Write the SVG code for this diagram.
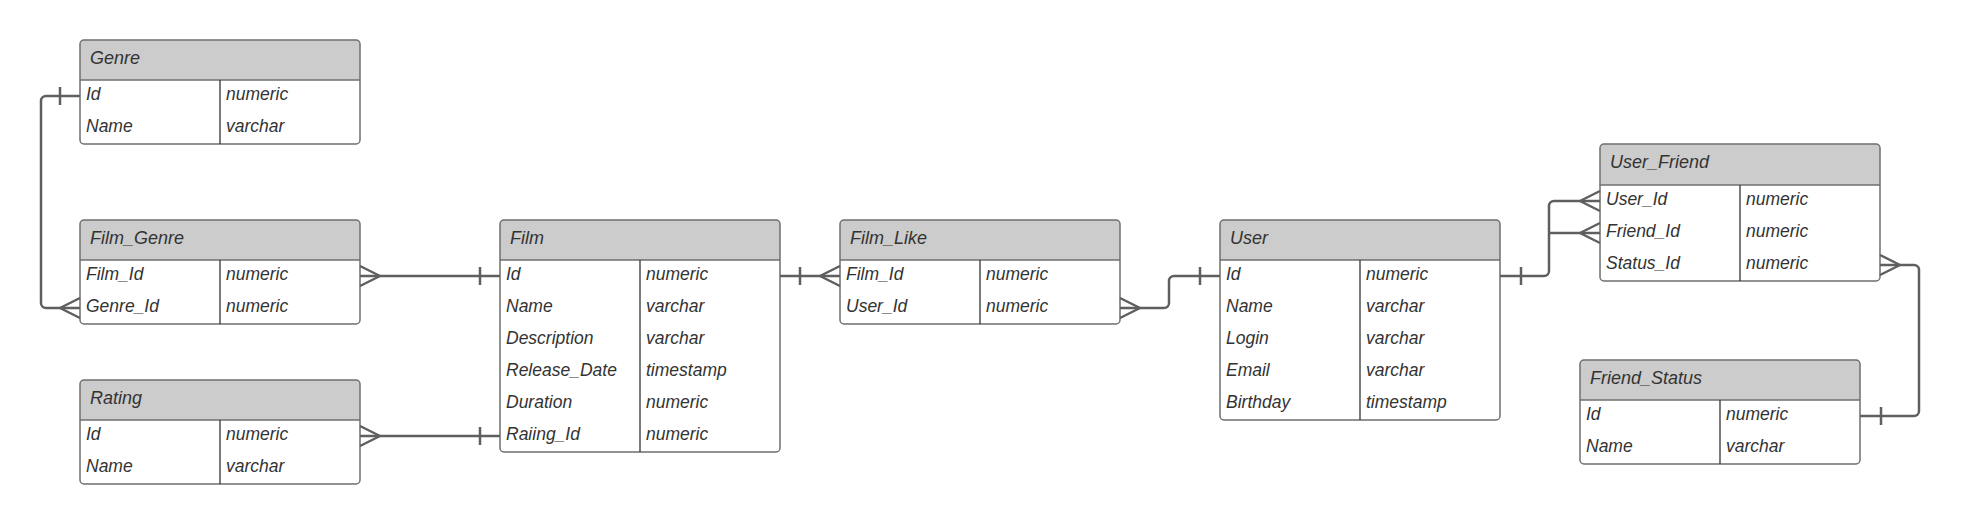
<svg xmlns="http://www.w3.org/2000/svg" width="1961" height="524" viewBox="0 0 1961 524">
<style>
.box{fill:#ffffff;stroke:#6f6f6f;stroke-width:1.5}
.hdr{fill:#cccccc}
.sep{stroke:#6f6f6f;stroke-width:1.5}
.div{stroke:#333333;stroke-width:1.3}
text{font-family:"Liberation Sans",Arial,sans-serif;font-style:italic;fill:#333333}
.t{font-size:18px}
.f{font-size:17.5px}
.c{fill:none;stroke:#5f5f5f;stroke-width:2.5;stroke-linejoin:round}
</style>
<rect width="1961" height="524" fill="#ffffff"/>

<g id="Genre">
<path class="hdr" d="M80,80 V44 a4,4 0 0 1 4,-4 H356 a4,4 0 0 1 4,4 V80 Z"/>
<rect class="box" x="80" y="40" width="280" height="104" rx="4" fill="none" style="fill:none"/>
<line class="sep" x1="80" y1="80" x2="360" y2="80"/>
<line class="div" x1="220" y1="80" x2="220" y2="144"/>
<text class="t" x="90" y="64">Genre</text>
<text class="f" x="86" y="100">Id</text><text class="f" x="226" y="100">numeric</text>
<text class="f" x="86" y="132">Name</text><text class="f" x="226" y="132">varchar</text>
</g>

<g id="Film_Genre">
<path class="hdr" d="M80,260 V224 a4,4 0 0 1 4,-4 H356 a4,4 0 0 1 4,4 V260 Z"/>
<rect class="box" x="80" y="220" width="280" height="104" rx="4" style="fill:none"/>
<line class="sep" x1="80" y1="260" x2="360" y2="260"/>
<line class="div" x1="220" y1="260" x2="220" y2="324"/>
<text class="t" x="90" y="244">Film_Genre</text>
<text class="f" x="86" y="280">Film_Id</text><text class="f" x="226" y="280">numeric</text>
<text class="f" x="86" y="312">Genre_Id</text><text class="f" x="226" y="312">numeric</text>
</g>

<g id="Rating">
<path class="hdr" d="M80,420 V384 a4,4 0 0 1 4,-4 H356 a4,4 0 0 1 4,4 V420 Z"/>
<rect class="box" x="80" y="380" width="280" height="104" rx="4" style="fill:none"/>
<line class="sep" x1="80" y1="420" x2="360" y2="420"/>
<line class="div" x1="220" y1="420" x2="220" y2="484"/>
<text class="t" x="90" y="404">Rating</text>
<text class="f" x="86" y="440">Id</text><text class="f" x="226" y="440">numeric</text>
<text class="f" x="86" y="472">Name</text><text class="f" x="226" y="472">varchar</text>
</g>

<g id="Film">
<path class="hdr" d="M500,260 V224 a4,4 0 0 1 4,-4 H776 a4,4 0 0 1 4,4 V260 Z"/>
<rect class="box" x="500" y="220" width="280" height="232" rx="4" style="fill:none"/>
<line class="sep" x1="500" y1="260" x2="780" y2="260"/>
<line class="div" x1="640" y1="260" x2="640" y2="452"/>
<text class="t" x="510" y="244">Film</text>
<text class="f" x="506" y="280">Id</text><text class="f" x="646" y="280">numeric</text>
<text class="f" x="506" y="312">Name</text><text class="f" x="646" y="312">varchar</text>
<text class="f" x="506" y="344">Description</text><text class="f" x="646" y="344">varchar</text>
<text class="f" x="506" y="376">Release_Date</text><text class="f" x="646" y="376">timestamp</text>
<text class="f" x="506" y="408">Duration</text><text class="f" x="646" y="408">numeric</text>
<text class="f" x="506" y="440">Raiing_Id</text><text class="f" x="646" y="440">numeric</text>
</g>

<g id="Film_Like">
<path class="hdr" d="M840,260 V224 a4,4 0 0 1 4,-4 H1116 a4,4 0 0 1 4,4 V260 Z"/>
<rect class="box" x="840" y="220" width="280" height="104" rx="4" style="fill:none"/>
<line class="sep" x1="840" y1="260" x2="1120" y2="260"/>
<line class="div" x1="980" y1="260" x2="980" y2="324"/>
<text class="t" x="850" y="244">Film_Like</text>
<text class="f" x="846" y="280">Film_Id</text><text class="f" x="986" y="280">numeric</text>
<text class="f" x="846" y="312">User_Id</text><text class="f" x="986" y="312">numeric</text>
</g>

<g id="User">
<path class="hdr" d="M1220,260 V224 a4,4 0 0 1 4,-4 H1496 a4,4 0 0 1 4,4 V260 Z"/>
<rect class="box" x="1220" y="220" width="280" height="200" rx="4" style="fill:none"/>
<line class="sep" x1="1220" y1="260" x2="1500" y2="260"/>
<line class="div" x1="1360" y1="260" x2="1360" y2="420"/>
<text class="t" x="1230" y="244">User</text>
<text class="f" x="1226" y="280">Id</text><text class="f" x="1366" y="280">numeric</text>
<text class="f" x="1226" y="312">Name</text><text class="f" x="1366" y="312">varchar</text>
<text class="f" x="1226" y="344">Login</text><text class="f" x="1366" y="344">varchar</text>
<text class="f" x="1226" y="376">Email</text><text class="f" x="1366" y="376">varchar</text>
<text class="f" x="1226" y="408">Birthday</text><text class="f" x="1366" y="408">timestamp</text>
</g>

<g id="User_Friend">
<path class="hdr" d="M1600,185 V148 a4,4 0 0 1 4,-4 H1876 a4,4 0 0 1 4,4 V185 Z"/>
<rect class="box" x="1600" y="144" width="280" height="137" rx="4" style="fill:none"/>
<line class="sep" x1="1600" y1="185" x2="1880" y2="185"/>
<line class="div" x1="1740" y1="185" x2="1740" y2="281"/>
<text class="t" x="1610" y="168">User_Friend</text>
<text class="f" x="1606" y="205">User_Id</text><text class="f" x="1746" y="205">numeric</text>
<text class="f" x="1606" y="237">Friend_Id</text><text class="f" x="1746" y="237">numeric</text>
<text class="f" x="1606" y="269">Status_Id</text><text class="f" x="1746" y="269">numeric</text>
</g>

<g id="Friend_Status">
<path class="hdr" d="M1580,400 V364 a4,4 0 0 1 4,-4 H1856 a4,4 0 0 1 4,4 V400 Z"/>
<rect class="box" x="1580" y="360" width="280" height="104" rx="4" style="fill:none"/>
<line class="sep" x1="1580" y1="400" x2="1860" y2="400"/>
<line class="div" x1="1720" y1="400" x2="1720" y2="464"/>
<text class="t" x="1590" y="384">Friend_Status</text>
<text class="f" x="1586" y="420">Id</text><text class="f" x="1726" y="420">numeric</text>
<text class="f" x="1586" y="452">Name</text><text class="f" x="1726" y="452">varchar</text>
</g>

<g id="connectors">
<!-- Genre -> Film_Genre -->
<path class="c" d="M80,96 H46 a5,5 0 0 0 -5,5 V303 a5,5 0 0 0 5,5 H80"/>
<path class="c" d="M60,87 V105"/>
<path class="c" d="M80,298 L60,308 L80,318"/>
<!-- Film_Genre -> Film -->
<path class="c" d="M360,276 H500"/>
<path class="c" d="M360,266 L380,276 L360,286"/>
<path class="c" d="M480,267 V285"/>
<!-- Rating -> Film -->
<path class="c" d="M360,436 H500"/>
<path class="c" d="M360,426 L380,436 L360,446"/>
<path class="c" d="M480,427 V445"/>
<!-- Film -> Film_Like -->
<path class="c" d="M780,276 H840"/>
<path class="c" d="M800,267 V285"/>
<path class="c" d="M840,266 L820,276 L840,286"/>
<!-- Film_Like -> User -->
<path class="c" d="M1120,308 H1164 a5,5 0 0 0 5,-5 V281 a5,5 0 0 1 5,-5 H1220"/>
<path class="c" d="M1120,298 L1140,308 L1120,318"/>
<path class="c" d="M1200,267 V285"/>
<!-- User -> User_Friend -->
<path class="c" d="M1500,276 H1544 a5,5 0 0 0 5,-5 V206 a5,5 0 0 1 5,-5 H1600"/>
<path class="c" d="M1549,233 H1600"/>
<path class="c" d="M1521,267 V285"/>
<path class="c" d="M1600,191 L1580,201 L1600,211"/>
<path class="c" d="M1600,223 L1580,233 L1600,243"/>
<!-- User_Friend -> Friend_Status -->
<path class="c" d="M1880,265 H1914 a5,5 0 0 1 5,5 V411 a5,5 0 0 1 -5,5 H1860"/>
<path class="c" d="M1880,255 L1900,265 L1880,275"/>
<path class="c" d="M1881,407 V425"/>
</g>
</svg>
